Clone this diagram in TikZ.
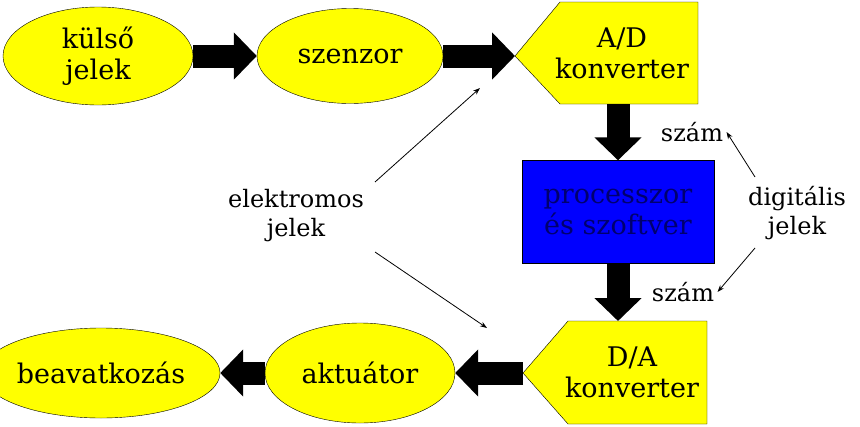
\documentclass[tikz,border=0pt]{standalone}
\usepackage{fontspec}
\setmainfont{DejaVu Serif}
\usetikzlibrary{shapes.geometric,arrows.meta}
\definecolor{sarga}{RGB}{255,255,0}
\definecolor{kek}{RGB}{0,0,255}
\definecolor{sotetkek}{RGB}{0,0,110}
\tikzset{
  jel/.style={ellipse, draw, fill=sarga, inner sep=0pt, align=center, font=\rmfamily\fontsize{27}{31}\selectfont},
  konv/.style={inner sep=0pt, align=center, font=\rmfamily\fontsize{27}{31}\selectfont},
  vastag/.style={line width=23pt, -{Triangle[length=23pt,width=46pt]}},
  vekony/.style={-{Stealth[length=7pt,width=5pt]}, line width=0.8pt},
  felirat/.style={font=\rmfamily\fontsize{24}{29}\selectfont, align=center}
}
\begin{document}
\begin{tikzpicture}[x=1pt,y=-1pt]
\useasboundingbox (0,0) rectangle (860,426);

% felso sor
\node[jel, minimum width=190, minimum height=98] (kulso) at (98,56) {külső\\jelek};
\node[jel, minimum width=186, minimum height=95] (szenzor) at (350,56) {szenzor};
\coordinate (adcsucs) at (515,56);
\fill[sarga, draw=black] (adcsucs) -- (560,2) -- (698,2) -- (698,104) -- (560,104) -- cycle;
\node[konv] (ad) at (622,53) {A/D\\konverter};

% processzor
\node[draw, fill=kek, minimum width=192, minimum height=103, inner sep=0pt, align=center,
  text=sotetkek, font=\rmfamily\fontsize{27}{31}\selectfont] (proc) at (618,212) {processzor\\és szoftver};

% also sor
\coordinate (dacsucs) at (523,373);
\fill[sarga, draw=black] (dacsucs) -- (568,321) -- (707,321) -- (707,424) -- (568,424) -- cycle;
\node[konv] (da) at (632,372) {D/A\\konverter};
\node[jel, minimum width=190, minimum height=100] (aktuator) at (360,373) {aktuátor};
\node[jel, minimum width=192, minimum height=90] (beavatk) at (101,373) {beavatkozás};

% vastag nyilak
\draw[vastag] (kulso.east) -- (szenzor.west);
\draw[vastag] (szenzor.east) -- (adcsucs);
\draw[vastag] (618,104) -- (proc.north);
\draw[vastag] (proc.south) -- (618,321);
\draw[vastag] (dacsucs) -- (aktuator.east);
\draw[vastag] (aktuator.west) -- (beavatk.east);

% feliratok
\node[felirat] (elektr) at (296,216) {elektromos\\jelek};
\node[felirat] (szam1) at (692,132) {szám};
\node[felirat] (szam2) at (683,292) {szám};
\node[felirat] (digit) at (797,213) {digitális\\jelek};
\coordinate (fent) at (480,88);
\coordinate (lent) at (487,328);
\draw[vekony] (375,182) -- (fent);
\draw[vekony] (375,252) -- (lent);
\draw[vekony] (755,177) -- (szam1.east);
\draw[vekony] (755,248) -- (szam2.east);
\end{tikzpicture}
\end{document}
